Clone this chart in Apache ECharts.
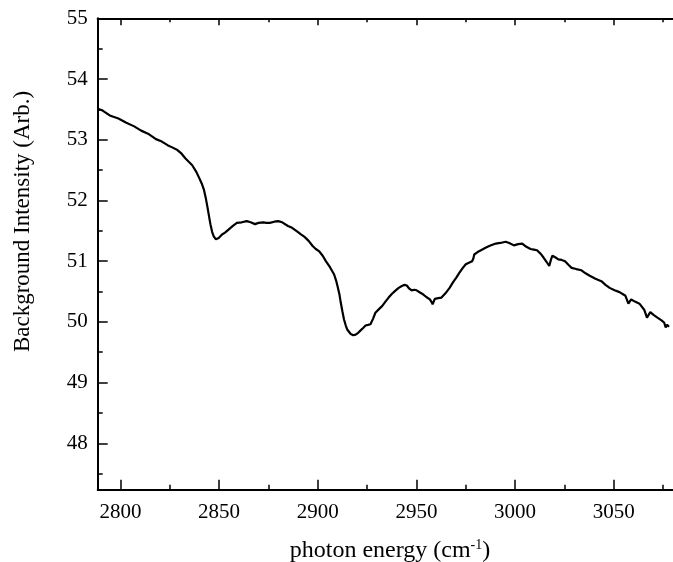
<!DOCTYPE html>
<html>
<head>
<meta charset="utf-8">
<style>
  html, body { margin: 0; padding: 0; background: #fff; }
  #chart { width: 673px; height: 562px; }
</style>
<script src="https://cdn.jsdelivr.net/npm/echarts@6/dist/echarts.min.js"></script>
</head>
<body>
<div id="chart"></div>
<script>
// Photon energy (cm^-1) sampled along the background spectrum
const energy = [
  2788.6, 2791, 2794.6, 2799, 2803, 2807, 2810.5, 2814, 2818, 2821,
  2823.9, 2826.5, 2828.9, 2831, 2833, 2836.4, 2838.3, 2839.8, 2841.2, 2842.3,
  2843.2, 2844, 2845.6, 2846.5, 2847.3, 2848.4, 2849.8, 2851.5, 2853, 2854.8,
  2857, 2859, 2861.5, 2864, 2866, 2868.2, 2870, 2872.4, 2874, 2875.7,
  2878, 2879.9, 2882, 2884.9, 2887, 2889.5, 2891.5, 2893.3, 2895.5, 2897.4,
  2899, 2900.8, 2902.5, 2904.1, 2906.2, 2908.3, 2909.3, 2910, 2911, 2911.7,
  2912.5, 2913.3, 2914.2, 2915, 2916.7, 2918, 2919.2, 2920.5, 2921.7, 2923,
  2924.2, 2925.5, 2926.7, 2928, 2929.2, 2931, 2932.6, 2934.2, 2935.9, 2937.5,
  2939.2, 2941, 2942.6, 2944, 2945.1, 2946.3, 2947.6, 2949, 2950.1, 2952,
  2953.5, 2955, 2956.8, 2957.6, 2958.2, 2959.3, 2961, 2962.7, 2964.7, 2966.8,
  2968.5, 2970.2, 2971.8, 2973.5, 2975, 2976, 2978.2, 2978.8, 2979.3, 2981,
  2982.7, 2985, 2986.9, 2988.5, 2990.2, 2992.5, 2995.2, 2997, 2999.4, 3001.5,
  3003.6, 3005.5, 3007.8, 3009.5, 3011.1, 3013, 3014.4, 3015.9, 3017.3, 3018.2,
  3018.9, 3020.5, 3021.9, 3023.6, 3025.3, 3027, 3028.6, 3031, 3033.6, 3035.7,
  3037.8, 3040.7, 3043.7, 3045.8, 3047.9, 3050.4, 3052.9, 3055.9, 3057.4, 3058.8,
  3061, 3063, 3065.4, 3066.8, 3068.5, 3070.3, 3072.1, 3074, 3075.5, 3076.3,
  3077, 3078
];

// Background intensity (arbitrary units) at each energy above
const intensity = [
  53.51, 53.48, 53.40, 53.35, 53.28, 53.22, 53.15, 53.10, 53.01, 52.97,
  52.91, 52.87, 52.83, 52.77, 52.69, 52.58, 52.48, 52.38, 52.28, 52.18,
  52.05, 51.91, 51.61, 51.48, 51.41, 51.36, 51.38, 51.44, 51.47, 51.52,
  51.58, 51.63, 51.64, 51.66, 51.64, 51.61, 51.63, 51.64, 51.63, 51.63,
  51.65, 51.66, 51.64, 51.58, 51.55, 51.49, 51.44, 51.40, 51.33, 51.25,
  51.20, 51.16, 51.09, 51.00, 50.90, 50.78, 50.68, 50.59, 50.45, 50.31,
  50.17, 50.04, 49.94, 49.87, 49.80, 49.78, 49.79, 49.82, 49.86, 49.90,
  49.94, 49.95, 49.96, 50.05, 50.15, 50.21, 50.26, 50.33, 50.40, 50.46,
  50.51, 50.56, 50.59, 50.61, 50.60, 50.55, 50.52, 50.53, 50.52, 50.48,
  50.45, 50.41, 50.37, 50.33, 50.29, 50.38, 50.39, 50.40, 50.47, 50.56,
  50.65, 50.73, 50.81, 50.89, 50.95, 50.97, 51.00, 51.04, 51.11, 51.15,
  51.18, 51.22, 51.25, 51.27, 51.29, 51.30, 51.32, 51.30, 51.26, 51.28,
  51.29, 51.24, 51.20, 51.19, 51.18, 51.12, 51.06, 50.99, 50.92, 51.03,
  51.09, 51.06, 51.03, 51.02, 51.00, 50.94, 50.89, 50.87, 50.85, 50.80,
  50.76, 50.71, 50.67, 50.61, 50.56, 50.52, 50.49, 50.43, 50.30, 50.37,
  50.33, 50.30, 50.20, 50.07, 50.16, 50.11, 50.07, 50.03, 49.99, 49.91,
  49.95, 49.92
];

// Tick positions
const xMajorTicks = [2800, 2850, 2900, 2950, 3000, 3050];
const xMinorTicks = [2825, 2875, 2925, 2975, 3025, 3075];
const yMajorTicks = [48, 49, 50, 51, 52, 53, 54, 55];
const yMinorTicks = [47.5, 48.5, 49.5, 50.5, 51.5, 52.5, 53.5, 54.5];

const X_MIN = 2788.5, X_MAX = 3080;
const Y_MIN = 47.236, Y_MAX = 55;
const FONT = '"Liberation Serif", "Times New Roman", serif';
const INK = '#000';

const points = energy.map((e, i) => [e, intensity[i]]);
const plain = v => String(v);

function xAxisDef(position, ticks, len, opts) {
  return Object.assign({
    type: 'value', position: position, min: X_MIN, max: X_MAX,
    axisLine: { show: false },
    axisTick: { show: true, inside: true, length: len, customValues: ticks,
                lineStyle: { color: INK, width: 1.5 } },
    axisLabel: { show: false },
    splitLine: { show: false }
  }, opts || {});
}
function yAxisDef(ticks, len, opts) {
  return Object.assign({
    type: 'value', position: 'left', min: Y_MIN, max: Y_MAX,
    axisLine: { show: false },
    axisTick: { show: true, inside: true, length: len, customValues: ticks,
                lineStyle: { color: INK, width: 1.5 } },
    axisLabel: { show: false },
    splitLine: { show: false }
  }, opts || {});
}

const chart = echarts.init(document.getElementById('chart'), null, { renderer: 'canvas' });
chart.setOption({
  animation: false,
  backgroundColor: '#fff',
  grid: { left: 97.7, top: 18.3, right: -5.7, bottom: 72.3, containLabel: false },
  xAxis: [
    xAxisDef('bottom', xMajorTicks, 10, {
      axisLine: { show: true, onZero: false, lineStyle: { color: INK, width: 2 } },
      axisLabel: { show: true, customValues: xMajorTicks, margin: 12, formatter: plain,
                   color: INK, fontSize: 21, fontFamily: FONT }
    }),
    xAxisDef('bottom', xMinorTicks, 5),
    xAxisDef('top', xMajorTicks, 7, {
      axisLine: { show: true, onZero: false, lineStyle: { color: INK, width: 2 } }
    }),
    xAxisDef('top', xMinorTicks, 4)
  ],
  yAxis: [
    yAxisDef(yMajorTicks, 10, {
      axisLine: { show: true, onZero: false, lineStyle: { color: INK, width: 2 } },
      axisLabel: { show: true, customValues: yMajorTicks, margin: 10, formatter: plain,
                   color: INK, fontSize: 21, fontFamily: FONT }
    }),
    yAxisDef(yMinorTicks, 5)
  ],
  series: [{
    type: 'line',
    xAxisIndex: 0,
    yAxisIndex: 0,
    data: points,
    showSymbol: false,
    smooth: false,
    clip: true,
    lineStyle: { color: INK, width: 2.2 }
  }],
  graphic: [
    {
      type: 'text',
      x: 23, y: 221.5,
      rotation: Math.PI / 2,
      style: {
        text: 'Background Intensity (Arb.)',
        font: '23px ' + FONT,
        fill: INK,
        align: 'center',
        verticalAlign: 'middle'
      }
    },
    {
      type: 'text',
      x: 390, y: 551,
      style: {
        text: '{n|photon energy (cm}{s|-1}{n|)}',
        fill: INK,
        align: 'center',
        verticalAlign: 'middle',
        rich: {
          n: { fontSize: 24, fontFamily: FONT, fill: INK, lineHeight: 26 },
          s: { fontSize: 14, fontFamily: FONT, fill: INK, lineHeight: 26, verticalAlign: 'top' }
        }
      }
    }
  ]
});
</script>
</body>
</html>
